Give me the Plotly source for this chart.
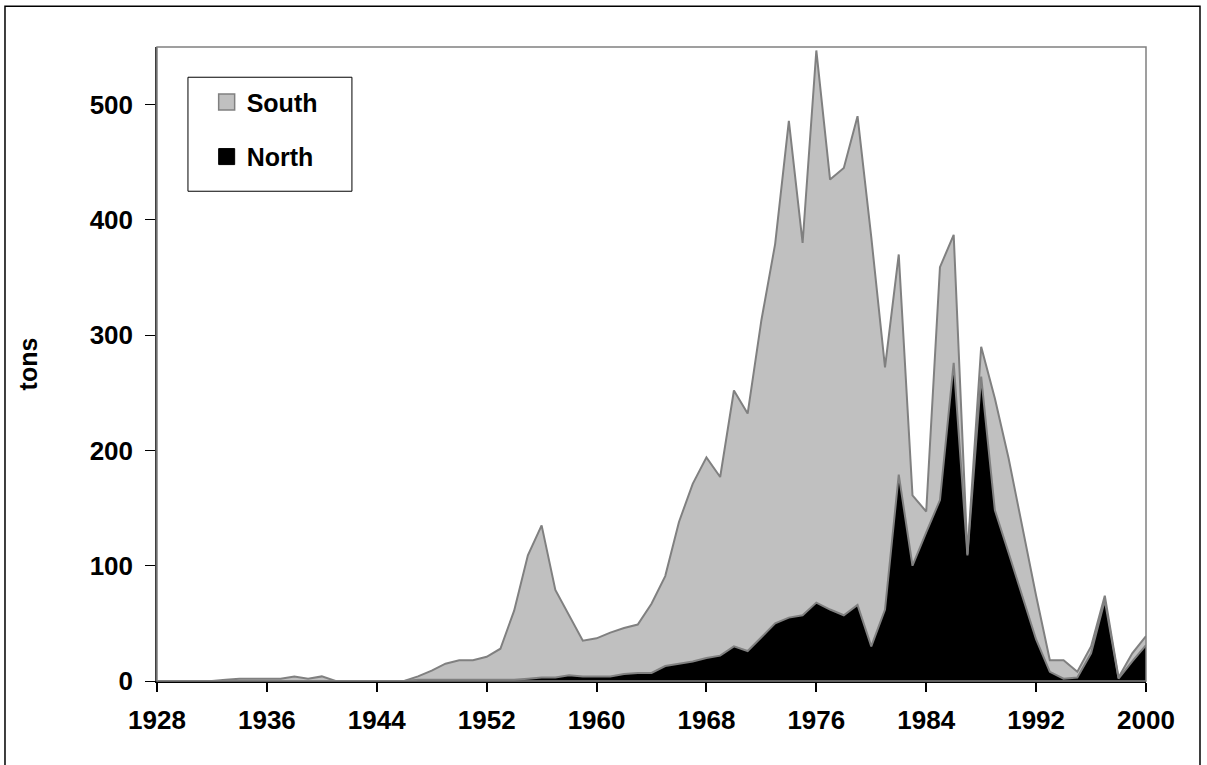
import plotly.graph_objects as go

# yearly landings, 1928-2000
years = list(range(1928, 2001))

north = [
    0, 0, 0, 0, 0, 0, 0, 0, 0, 0,          # 1928-1937
    0, 0, 0, 0, 0, 0, 0, 0, 0, 1,          # 1938-1947
    1, 1, 1, 1, 1, 1, 1, 2, 3, 3,          # 1948-1957
    5, 4, 4, 4, 6, 7, 7, 13, 15, 17,       # 1958-1967
    20, 22, 30, 26, 38, 50, 55, 57, 68, 62,  # 1968-1977
    57, 66, 30, 62, 179, 100, 129, 157, 276, 109,  # 1978-1987
    264, 148, 111, 74, 36, 8, 2, 3, 24, 70,  # 1988-1997
    2, 17, 31,                              # 1998-2000
]

south = [
    0, 0, 0, 0, 0, 1, 2, 2, 2, 2,          # 1928-1937
    4, 2, 4, 0, 0, 0, 0, 0, 0, 3,          # 1938-1947
    8, 14, 17, 17, 20, 27, 60, 107, 132, 76,  # 1948-1957
    52, 31, 33, 38, 40, 42, 60, 78, 123, 154,  # 1958-1967
    174, 155, 222, 206, 275, 329, 431, 323, 479, 373,  # 1968-1977
    388, 424, 355, 210, 191, 61, 18, 202, 111, 1,  # 1978-1987
    26, 97, 82, 59, 38, 10, 16, 5, 6, 4,   # 1988-1997
    1, 7, 8,                                # 1998-2000
]

year_ticks = [1928, 1936, 1944, 1952, 1960, 1968, 1976, 1984, 1992, 2000]
y_ticks = [0, 100, 200, 300, 400, 500]

FONT = "Arial, Liberation Sans, sans-serif"
EDGE = "#808080"

fig = go.Figure()

fig.add_trace(go.Scatter(
    x=years, y=north, name="North", stackgroup="one", mode="lines",
    line=dict(color=EDGE, width=2), fillcolor="black", showlegend=False,
))
fig.add_trace(go.Scatter(
    x=years, y=south, name="South", stackgroup="one", mode="lines",
    line=dict(color=EDGE, width=2), fillcolor="#C0C0C0", showlegend=False,
))

# legend entries as square swatches
fig.add_trace(go.Scatter(
    x=[None], y=[None], name="South", mode="markers", legendgroup="s",
    marker=dict(symbol="square", size=16, color="#C0C0C0", line=dict(color=EDGE, width=1.5)),
))
fig.add_trace(go.Scatter(
    x=[None], y=[None], name="North", mode="markers", legendgroup="n",
    marker=dict(symbol="square", size=16, color="black", line=dict(color="black", width=1)),
))

fig.update_layout(
    width=1207, height=765,
    margin=dict(l=157, r=61, t=47, b=84),
    paper_bgcolor="white", plot_bgcolor="white",
    font=dict(family=FONT, size=26, color="black", weight="bold"),
    legend=dict(
        x=0.031, y=0.949, xanchor="left", yanchor="top",
        borderwidth=0, bgcolor="rgba(0,0,0,0)",
        traceorder="grouped", tracegroupgap=19, indentation=19,
        font=dict(family=FONT, size=25, color="black", weight="bold"),
        itemclick=False,
    ),
    xaxis=dict(
        range=[1928, 2000], tickvals=year_ticks, showgrid=False, zeroline=False,
        showline=True, linecolor="black", linewidth=1.5,
        ticks="outside", ticklen=9, tickcolor="black", tickwidth=1.5,
        ticklabelstandoff=6,
    ),
    yaxis=dict(
        range=[0, 550], tickvals=y_ticks, showgrid=False, zeroline=False,
        showline=True, linecolor="#404040", linewidth=1.5,
        ticks="outside", ticklen=10, tickcolor="black", tickwidth=1,
        ticklabelstandoff=7,
        title=dict(text="tons", font=dict(family=FONT, size=25, weight="bold"), standoff=45),
    ),
    shapes=[
        # plot area border (top / right)
        dict(type="rect", xref="paper", yref="paper", x0=0, x1=1, y0=0, y1=1,
             line=dict(color=EDGE, width=1.5), layer="above"),
        # legend box
        dict(type="rect", xref="paper", yref="paper", x0=0.0313, x1=0.1971,
             y0=0.7725, y1=0.9523, line=dict(color="black", width=1),
             fillcolor="rgba(0,0,0,0)", layer="above"),
        # outer chart frame
        dict(type="rect", xref="paper", yref="paper", x0=-0.1537, x1=1.0546,
             y0=-0.2, y1=1.0642, line=dict(color="black", width=1.5)),
    ],
)

fig.write_html("out.html", config={"displayModeBar": False},
               post_script="document.body.style.margin='0';")
